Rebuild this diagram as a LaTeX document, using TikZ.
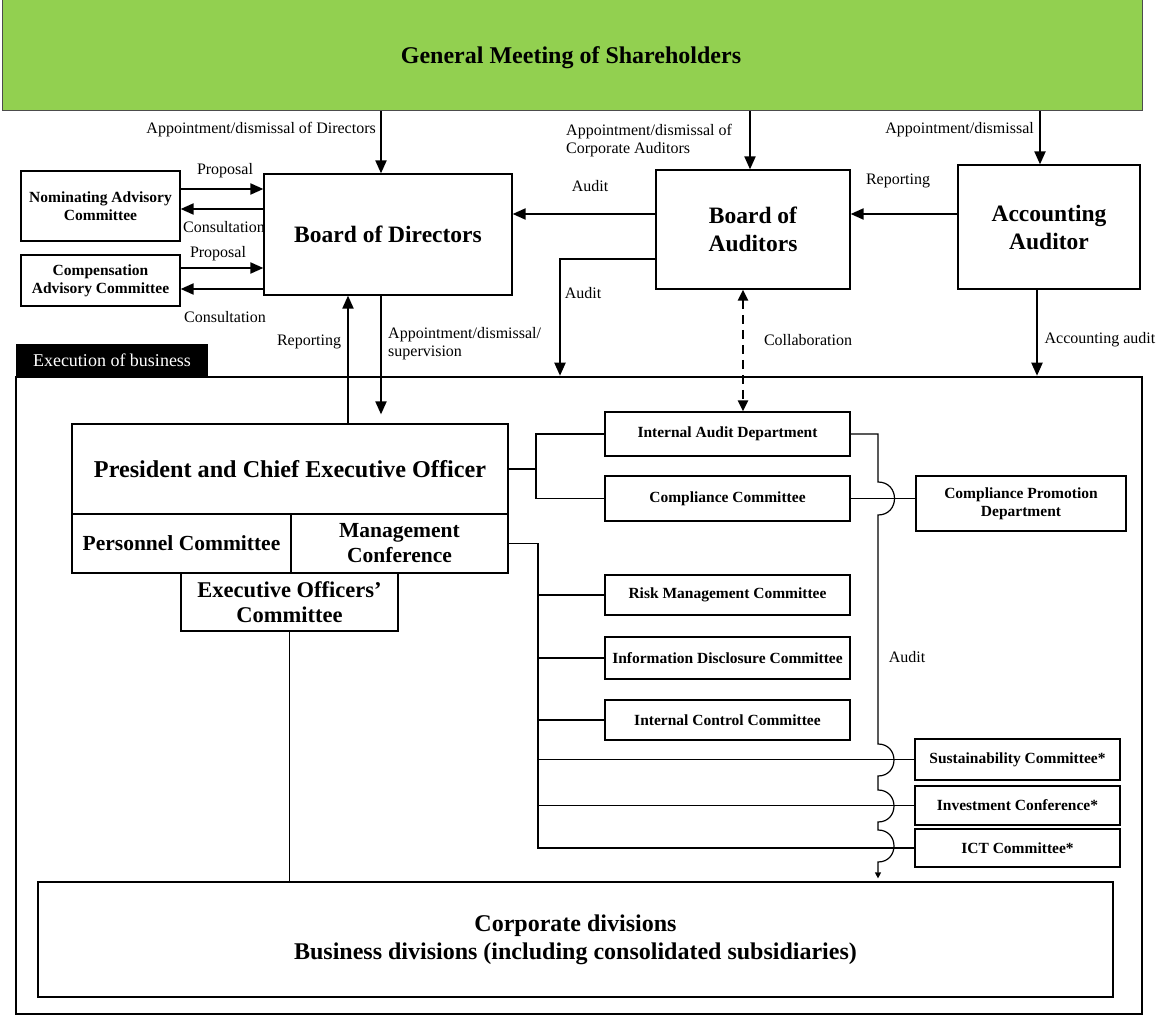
\documentclass[tikz,border=0pt]{standalone}
\usepackage{fontspec}
\setmainfont{Liberation Serif}
\usetikzlibrary{arrows.meta}
\definecolor{gmsgreen}{HTML}{92D050}
\begin{document}
\begin{tikzpicture}[x=1pt,y=-1pt,
  box/.style={draw, line width=1.2pt, align=center, inner sep=0pt, font=\bfseries\fontsize{15.5}{18}\selectfont},
  bigbox/.style={box, font=\bfseries\fontsize{23.5}{28}\selectfont},
  midbox/.style={box, font=\bfseries\fontsize{21.5}{25}\selectfont},
  thickbox/.style={box, line width=2.4pt},
  lbl/.style={inner sep=0pt, align=left, font=\fontsize{16}{18}\selectfont},
  arr/.style={line width=2pt, -{Triangle[length=13pt,width=11pt]}},
  conn/.style={line width=1.2pt},
]
\useasboundingbox (0,0) rectangle (1160,1016);

% top
\node[draw=black!70, line width=1pt, fill=gmsgreen, minimum width=1140, minimum height=111, inner sep=0pt] (gms) at (572,55.5) {};
\node[inner sep=0pt, font=\bfseries\fontsize{24}{28}\selectfont] (gmst) at (571,58) {General Meeting of Shareholders};

\node[bigbox, minimum width=248, minimum height=121] (bod) at (388,234.5) {Board of Directors};
\node[box, minimum width=159, minimum height=70] (nom) at (100.5,206) {Nominating Advisory\\Committee};
\node[box, minimum width=159, minimum height=51] (comp) at (100.5,280.5) {Compensation\\Advisory Committee};
\node[bigbox, minimum width=194, minimum height=119] (boa) at (753,229.5) {Board of\\Auditors};
\node[bigbox, minimum width=182, minimum height=124] (acc) at (1049,227) {Accounting\\Auditor};

% execution frame
\node[draw, line width=2.5pt, minimum width=1126, minimum height=637, inner sep=0pt] (exe) at (579,695.5) {};
\node[fill=black, text=white, minimum width=192, minimum height=33, inner sep=0pt,
      font=\fontsize{18}{20}\selectfont] (tab) at (112,360.5) {Execution of business};

\node[box, minimum width=436, minimum height=90, font=\bfseries\fontsize{24.2}{28}\selectfont] (pres) at (290,469) {President and Chief Executive Officer};
\node[midbox, minimum width=219, minimum height=59] (pers) at (181.5,543.5) {Personnel Committee};
\node[midbox, minimum width=217, minimum height=59] (mgmt) at (399.5,543.5) {Management\\Conference};
\node[midbox, minimum width=217, minimum height=58, font=\bfseries\fontsize{22.5}{25}\selectfont] (exec) at (289.5,602) {Executive Officers’\\Committee};

\node[box, minimum width=245, minimum height=44] (iad) at (727.5,434) {Internal Audit Department};
\node[box, minimum width=245, minimum height=45] (cc) at (727.5,498.5) {Compliance Committee};
\node[box, minimum width=210, minimum height=55] (cpd) at (1021,503.5) {Compliance Promotion\\Department};
\node[box, minimum width=245, minimum height=40] (rmc) at (727.5,595) {Risk Management Committee};
\node[box, minimum width=245, minimum height=42] (idc) at (727.5,658) {Information Disclosure Committee};
\node[box, minimum width=245, minimum height=40] (icc) at (727.5,720) {Internal Control Committee};
\node[thickbox, minimum width=205, minimum height=41] (sus) at (1017.5,759.5) {Sustainability Committee*};
\node[thickbox, minimum width=205, minimum height=39] (inv) at (1017.5,805.5) {Investment Conference*};
\node[thickbox, minimum width=205, minimum height=38] (ict) at (1017.5,848) {ICT Committee*};

\node[box, minimum width=1075, minimum height=115, font=\bfseries\fontsize{24}{28}\selectfont] (corp) at (575.5,939.5)
  {Corporate divisions\\Business divisions (including consolidated subsidiaries)};

% arrows from general meeting
\draw[arr] (381,0 |- gms.south) -- (381,0 |- bod.north);
\draw[arr] (750,0 |- gms.south) -- (750,0 |- boa.north);
\draw[arr] (1040,0 |- gms.south) -- (1040,0 |- acc.north);
\node[lbl, anchor=east] (l1) at (376,130) {Appointment/dismissal of Directors};
\node[lbl, anchor=west] (l2) at (566,141) {Appointment/dismissal of\\Corporate Auditors};
\node[lbl, anchor=east] (l3) at (1034,130) {Appointment/dismissal};

% advisory committees
\draw[arr] (nom.east |- 0,189) -- (bod.west |- 0,189);
\draw[arr] (bod.west |- 0,209) -- (nom.east |- 0,209);
\draw[arr] (comp.east |- 0,268) -- (bod.west |- 0,268);
\draw[arr] (bod.west |- 0,289) -- (comp.east |- 0,289);
\node[lbl] (lp1) at (225,171) {Proposal};
\node[lbl] (lc1) at (224,227) {Consultation};
\node[lbl] (lp2) at (218,254) {Proposal};
\node[lbl] (lc2) at (225,317) {Consultation};

% auditors
\draw[arr] (boa.west |- 0,214) -- (bod.east |- 0,214);
\draw[arr] (acc.west |- 0,214) -- (boa.east |- 0,214);
\node[lbl] (la1) at (590,186) {Audit};
\node[lbl] (lr1) at (898,181) {Reporting};
\draw[arr] (boa.west |- 0,259) -- (560,259) -- (560,0 |- exe.north);
\node[lbl] (la2) at (583,293) {Audit};
\draw[line width=2.5pt, dash pattern=on 9pt off 6pt,
      {Triangle[length=11pt,width=10pt]}-{Triangle[length=11pt,width=10pt]}]
      (743,0 |- boa.south) -- (743,0 |- iad.north);
\node[lbl] (lcol) at (808,340) {Collaboration};
\draw[arr] (1037,0 |- acc.south) -- (1037,0 |- exe.north);
\node[lbl] (lacc) at (1100,340) {Accounting audit};

% board of directors <-> president
\draw[arr] (348,0 |- pres.north) -- (348,0 |- bod.south);
\node[lbl] (lrep) at (309,342) {Reporting};
\draw[arr, shorten >=9pt] (381,0 |- bod.south) -- (381,0 |- pres.north);
\node[lbl, anchor=west] (lsup) at (388,344) {Appointment/dismissal/\\supervision};

% president to audit/compliance
\draw[conn] (pres.east) -- (536,0 |- pres.east);
\draw[conn] (iad.west) -- (536,0 |- iad.west) -- (536,0 |- cc.west) -- (cc.west);
\draw[conn] (cc.east) -- (cc.east -| cpd.west);

% management conference branches
\draw[conn] (mgmt.east) -- (538,0 |- mgmt.east) -- (538,0 |- ict.west) -- (ict.west);
\draw[conn] (538,0 |- rmc.west) -- (rmc.west);
\draw[conn] (538,0 |- idc.west) -- (idc.west);
\draw[conn] (538,0 |- icc.west) -- (icc.west);
\draw[conn] (538,0 |- sus.west) -- (sus.west);
\draw[conn] (538,0 |- inv.west) -- (inv.west);

% executive officers to divisions
\draw[conn] (exec.south) -- (exec.south |- corp.north);

% internal audit line with jumps
\draw[conn, -{Triangle[length=6pt,width=6pt]}, shorten >=3pt]
  (iad.east) -- (878,0 |- iad.east) -- (878,482)
  .. controls (900,482) and (900,515) .. (878,515) -- (878,744)
  .. controls (899.3,744) and (899.3,776) .. (878,776) -- (878,790)
  .. controls (899.3,790) and (899.3,822) .. (878,822) -- (878,830)
  .. controls (899.3,830) and (899.3,862) .. (878,862) -- (878,0 |- corp.north);
\node[lbl] (laud) at (907,657) {Audit};

\end{tikzpicture}
\end{document}
